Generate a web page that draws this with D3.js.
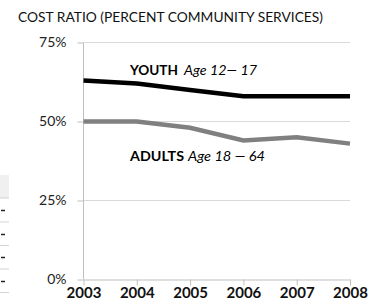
<!DOCTYPE html>
<html><head><meta charset="utf-8">
<script src="https://cdn.jsdelivr.net/npm/d3@7/dist/d3.min.js"></script>
<style>
html,body{margin:0;padding:0;background:#fff;}
svg{display:block;font-family:Lato,"Open Sans",sans-serif;}
</style></head>
<body>
<script>
const years = [2003, 2004, 2005, 2006, 2007, 2008];
const youth = [63, 62, 60, 58, 58, 58];
const adults = [50, 50, 48, 44, 45, 43];
const yTicks = [0, 25, 50, 75];
const title = "COST RATIO (PERCENT COMMUNITY SERVICES)";

const W = 375, H = 302;
const svg = d3.select("body").append("svg").attr("width", W).attr("height", H);

const x = d3.scalePoint().domain(years).range([83.5, 350]);
const y = d3.scaleLinear().domain([0, 75]).range([279.5, 42.5]);

// left-edge table fragment
const frag = svg.append("g");
frag.append("rect").attr("x", 0).attr("y", 175).attr("width", 9).attr("height", 23).attr("fill", "#f0f0f0");
[198, 222, 245.5, 269, 292.5].forEach(v => frag.append("line").attr("x1", 0).attr("x2", 9).attr("y1", v).attr("y2", v).attr("stroke", "#d4d4d4").attr("stroke-width", 1));
[210.5, 234.5, 257.5, 281.5].forEach(v => frag.append("line").attr("x1", 1).attr("x2", 5).attr("y1", v).attr("y2", v).attr("stroke", "#222").attr("stroke-width", 1.5));

svg.append("text").attr("x", 18).attr("y", 22).attr("font-size", 13.8).attr("fill", "#111")
  .attr("textLength", 305).attr("lengthAdjust", "spacingAndGlyphs").text(title);

// gridlines
svg.append("g").selectAll("line").data(yTicks.filter(d => d > 0)).join("line")
  .attr("x1", 83.5).attr("x2", 350).attr("y1", d => y(d)).attr("y2", d => y(d))
  .attr("stroke", "#d9d9d9").attr("stroke-width", 1);

// y axis
const ya = svg.append("g").attr("transform", "translate(83.5,0)")
  .call(d3.axisLeft(y).tickValues(yTicks).tickFormat(d => d + "%").tickSize(6).tickPadding(11));
ya.select(".domain").attr("stroke", "#bfbfbf").attr("d", `M0,${y(75)}V${y(0)}`);
ya.selectAll(".tick line").attr("stroke", "#bfbfbf");
ya.selectAll("text").attr("font-size", 14).attr("fill", "#222").attr("font-family", "Lato");

// x axis
const xa = svg.append("g").attr("transform", "translate(0,279.5)")
  .call(d3.axisBottom(x).tickSize(6).tickPadding(2).tickSizeOuter(0));
xa.select(".domain").attr("stroke", "#bfbfbf");
xa.selectAll(".tick line").attr("stroke", "#bfbfbf");
xa.selectAll("text").attr("font-size", 15).attr("font-weight", "bold").attr("fill", "#111").attr("font-family", "Lato").attr("dy", "0.71em");

const line = d3.line().x((d, i) => x(years[i])).y(d => y(d));
svg.append("path").datum(adults).attr("d", line).attr("fill", "none").attr("stroke", "#808080").attr("stroke-width", 4.5);
svg.append("path").datum(youth).attr("d", line).attr("fill", "none").attr("stroke", "#000").attr("stroke-width", 4.5);

const l1 = svg.append("text").attr("y", 75).attr("font-size", 14).attr("fill", "#000");
l1.append("tspan").attr("x", 130).attr("font-weight", "bold").attr("textLength", 48).attr("lengthAdjust", "spacingAndGlyphs").text("YOUTH");
l1.append("tspan").attr("x", 184).attr("font-style", "italic").attr("font-size", 13).attr("textLength", 73).attr("lengthAdjust", "spacingAndGlyphs").text("Age 12\u2014 17");
const l2 = svg.append("text").attr("y", 161).attr("font-size", 14).attr("fill", "#000");
l2.append("tspan").attr("x", 130).attr("font-weight", "bold").attr("textLength", 54).attr("lengthAdjust", "spacingAndGlyphs").text("ADULTS");
l2.append("tspan").attr("x", 188).attr("font-style", "italic").attr("font-size", 13).attr("textLength", 77).attr("lengthAdjust", "spacingAndGlyphs").text("Age 18 \u2014 64");
</script>
</body></html>
